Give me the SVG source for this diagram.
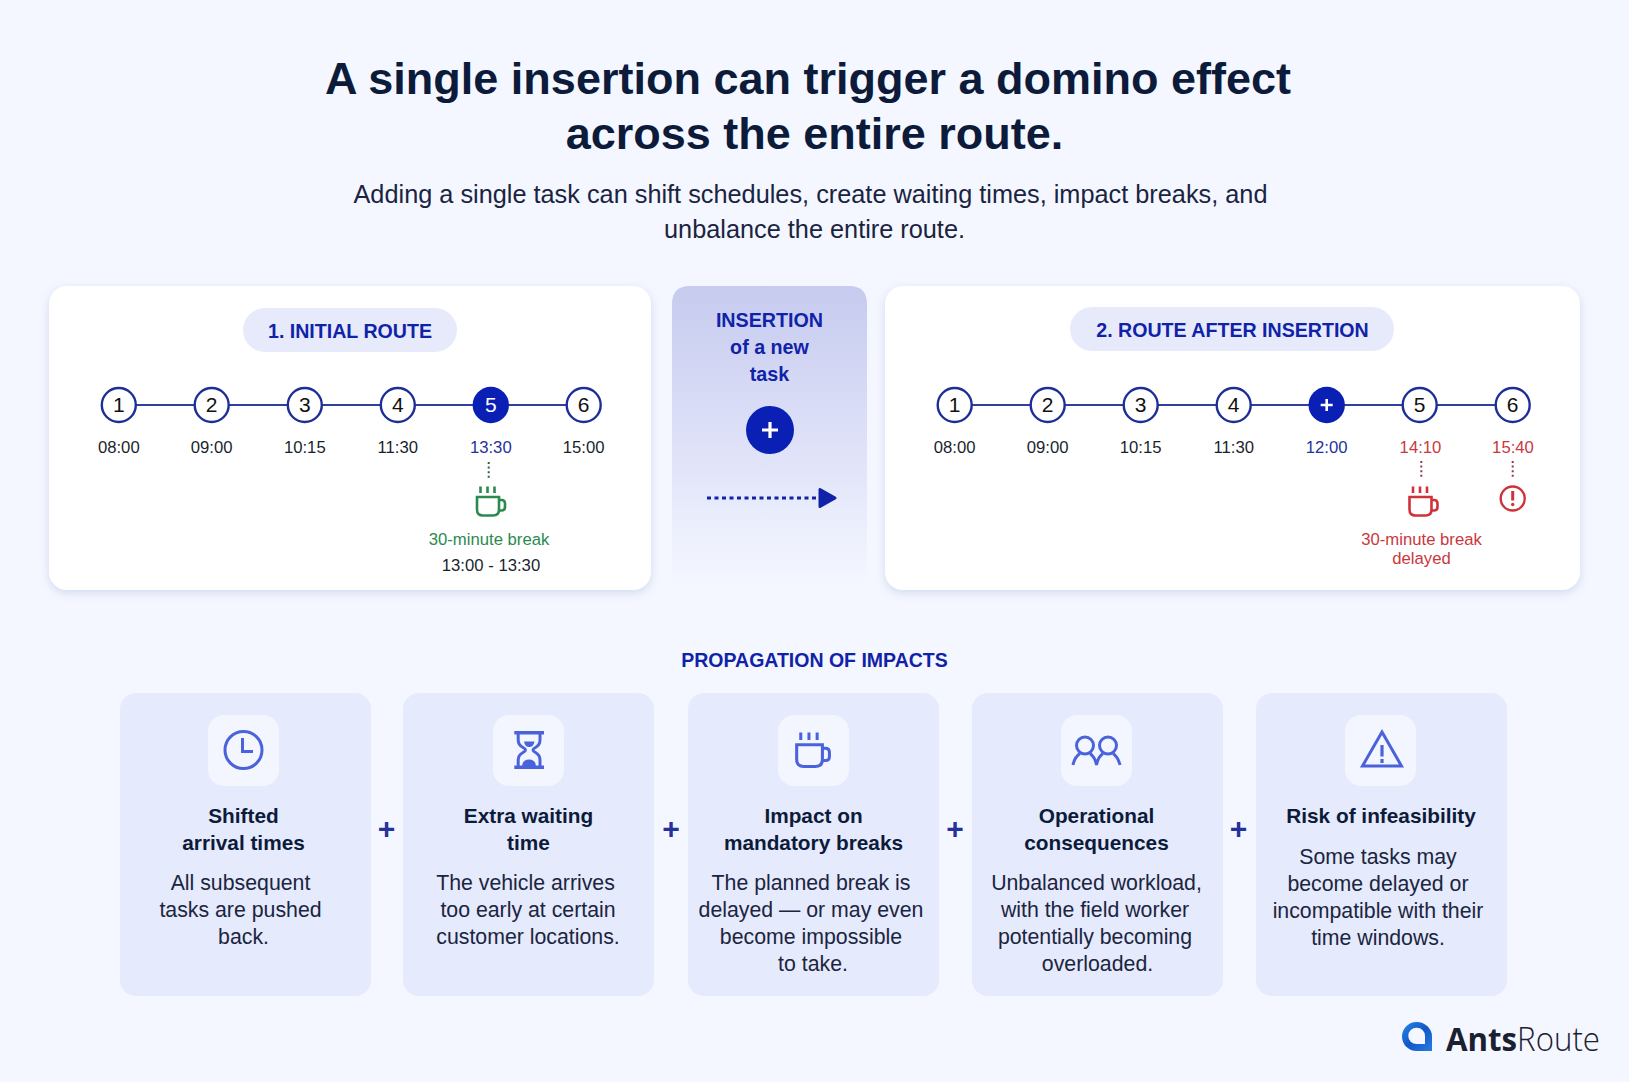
<svg xmlns="http://www.w3.org/2000/svg" width="1629" height="1082" viewBox="0 0 1629 1082">
<style>
text{font-family:"Liberation Sans",Arial,sans-serif;text-anchor:middle;fill:#0d1b3a}
.h1{font-size:45px;font-weight:700}
.sub{font-size:25.300px;fill:#1a2440}
.pill{font-size:19.600px;font-weight:700;fill:#1023a8}
.pf{fill:#e6eafb}
.num{font-size:21px;fill:#111}
.t{font-size:16.700px;fill:#1a1f2e}
.nc{fill:#fff;stroke:#1d2f96;stroke-width:2.400}
.nf{fill:#0a1fb4}
.tb{fill:#25329a}.tr{fill:#c9383e}.tg{fill:#2b8a50}
.ins{font-size:19.700px;font-weight:700;fill:#1023a8}
.hd{font-size:20.800px;font-weight:700}
.bd{font-size:21.300px;fill:#1b2540}
.card{fill:#e5eafc}
.ib{fill:#f3f6ff}
.ic{fill:none;stroke:#4a63db;stroke-width:3}
.plus{font-size:30px;font-weight:700;fill:#25329a}
.ln{stroke:#2d3f9f;stroke-width:2.200;fill:none}
.dot{stroke-width:2;stroke-dasharray:2 2.600;fill:none}
</style>
<defs>
<filter id="sh" x="-5%" y="-5%" width="110%" height="115%"><feDropShadow dx="0" dy="3" stdDeviation="5" flood-color="#8d9bd0" flood-opacity=".32"/></filter>
<linearGradient id="ig" x1="0" y1="0" x2="0" y2="1"><stop offset="0" stop-color="#c6cbef"/><stop offset=".55" stop-color="#dfe2f8"/><stop offset="1" stop-color="#f4f7ff"/></linearGradient>
<linearGradient id="lg" x1="0" y1="0" x2="1" y2="1"><stop offset="0" stop-color="#2a86e8"/><stop offset=".5" stop-color="#1158c8"/><stop offset="1" stop-color="#2a7be0"/></linearGradient>
<g id="cup"><path d="M4.500 0V6.500M11.500 0V6.500M18.500 0V6.500"/><path d="M1 10.500H23V23Q23 29 17 29H7Q1 29 1 23ZM23 13.500H25.500Q29 13.500 29 17V20.500Q29 24 25.500 24H22.500"/></g>
</defs>
<rect width="1629" height="1082" fill="#f4f7ff"/>
<g id="title">
<text class="h1" x="808" y="94">A single insertion can trigger a domino effect</text>
<text class="h1" x="814.500" y="149">across the entire route.</text>
<text class="sub" x="810.500" y="203">Adding a single task can shift schedules, create waiting times, impact breaks, and</text>
<text class="sub" x="814.500" y="238">unbalance the entire route.</text>
</g>
<g id="panel-initial">
<rect x="49" y="286" width="602" height="304" rx="18" fill="#fff" filter="url(#sh)"/>
<rect class="pf" x="243" y="308" width="214" height="44" rx="22"/>
<text class="pill" x="350" y="338">1. INITIAL ROUTE</text>
</g>
<g id="panel-insertion">
<path d="M690 286H849Q867 286 867 304V583H672V304Q672 286 690 286Z" fill="url(#ig)"/>
<text class="ins" x="769.500" y="327">INSERTION</text>
<text class="ins" x="769.500" y="354">of a new</text>
<text class="ins" x="769.500" y="381">task</text>
<circle class="nf" cx="770" cy="430" r="24"/>
<path d="M770 422V438M762 430H778" stroke="#fff" stroke-width="3.200" fill="none"/>
</g>
<g id="panel-after">
<rect x="885" y="286" width="695" height="304" rx="18" fill="#fff" filter="url(#sh)"/>
<rect class="pf" x="1070" y="307" width="324" height="44" rx="22"/>
<text class="pill" x="1232.500" y="337">2. ROUTE AFTER INSERTION</text>
</g>
<g id="connectors">
<path class="ln" d="M118.800 405H583.700"/>
<path class="ln" d="M954.700 405H1512.700"/>
<path class="dot" stroke="#3c5a48" d="M488.700 462V479"/>
<path class="dot" stroke="#8a4048" d="M1421.300 461V479"/>
<path class="dot" stroke="#8a4048" d="M1512.700 461V479"/>
<path d="M707 498H816" stroke="#0f22a8" stroke-width="3" stroke-dasharray="4 3.500" fill="none"/>
<path d="M820 489.500V506.500L835 498Z" fill="#0f22a8" stroke="#0f22a8" stroke-width="3" stroke-linejoin="round"/>
</g>
<g id="r1-1"><circle class="nc" cx="118.800" cy="405" r="17"/><text class="num" x="118.800" y="412">1</text><text class="t" x="118.800" y="453">08:00</text></g>
<g id="r1-2"><circle class="nc" cx="211.700" cy="405" r="17"/><text class="num" x="211.700" y="412">2</text><text class="t" x="211.700" y="453">09:00</text></g>
<g id="r1-3"><circle class="nc" cx="304.800" cy="405" r="17"/><text class="num" x="304.800" y="412">3</text><text class="t" x="304.800" y="453">10:15</text></g>
<g id="r1-4"><circle class="nc" cx="397.800" cy="405" r="17"/><text class="num" x="397.800" y="412">4</text><text class="t" x="397.800" y="453">11:30</text></g>
<g id="r1-5"><circle class="nf" cx="490.800" cy="405" r="18.200"/><text class="num" style="fill:#fff" x="490.800" y="412">5</text><text class="t tb" x="490.800" y="453">13:30</text></g>
<g id="r1-6"><circle class="nc" cx="583.700" cy="405" r="17"/><text class="num" x="583.700" y="412">6</text><text class="t" x="583.700" y="453">15:00</text></g>
<g id="break-initial">
<use href="#cup" x="476" y="486.500" fill="none" stroke="#2b8a50" stroke-width="2.600"/>
<text class="t tg" x="489" y="544.500">30-minute break</text>
<text class="t" x="491" y="570.500">13:00 - 13:30</text>
</g>
<g id="r2-1"><circle class="nc" cx="954.700" cy="405" r="17"/><text class="num" x="954.700" y="412">1</text><text class="t" x="954.700" y="453">08:00</text></g>
<g id="r2-2"><circle class="nc" cx="1047.700" cy="405" r="17"/><text class="num" x="1047.700" y="412">2</text><text class="t" x="1047.700" y="453">09:00</text></g>
<g id="r2-3"><circle class="nc" cx="1140.700" cy="405" r="17"/><text class="num" x="1140.700" y="412">3</text><text class="t" x="1140.700" y="453">10:15</text></g>
<g id="r2-4"><circle class="nc" cx="1233.700" cy="405" r="17"/><text class="num" x="1233.700" y="412">4</text><text class="t" x="1233.700" y="453">11:30</text></g>
<g id="r2-plus"><circle class="nf" cx="1326.700" cy="405" r="18.200"/><path d="M1326.700 399V411M1320.700 405H1332.700" stroke="#fff" stroke-width="2.600"/><text class="t tb" x="1326.700" y="453">12:00</text></g>
<g id="r2-5"><circle class="nc" cx="1419.700" cy="405" r="17"/><text class="num" x="1419.700" y="412">5</text><text class="t tr" x="1420.500" y="453">14:10</text></g>
<g id="r2-6"><circle class="nc" cx="1512.700" cy="405" r="17"/><text class="num" x="1512.700" y="412">6</text><text class="t tr" x="1513" y="453">15:40</text></g>
<g id="break-delayed">
<use href="#cup" x="1408.500" y="486.500" fill="none" stroke="#cf3238" stroke-width="2.600"/>
<text class="t tr" x="1421.500" y="544.500">30-minute break</text>
<text class="t tr" x="1421.500" y="563.500">delayed</text>
</g>
<g id="alert">
<circle cx="1512.700" cy="498.500" r="12" fill="none" stroke="#cf3238" stroke-width="2.400"/>
<path d="M1512.700 491V500.500" stroke="#cf3238" stroke-width="3"/><circle cx="1512.700" cy="504.500" r="1.700" fill="#cf3238"/>
</g>
<text id="propagation" x="814.500" y="667" style="font-size:19.500px;font-weight:700;fill:#1023a8">PROPAGATION OF IMPACTS</text>
<g id="impact-1">
<rect class="card" x="120" y="693" width="251" height="303" rx="16"/>
<rect class="ib" x="208" y="715" width="71" height="71" rx="16"/>
<circle class="ic" cx="243.500" cy="750" r="18.500"/><path class="ic" d="M242.500 738V751.500H253"/>
<text class="hd" x="243.500" y="823">Shifted</text><text class="hd" x="243.500" y="850">arrival times</text>
<text class="bd" x="240.500" y="890">All subsequent</text><text class="bd" x="240.500" y="917">tasks are pushed</text><text class="bd" x="243.500" y="944">back.</text>
</g>
<g id="impact-2">
<rect class="card" x="403" y="693" width="251" height="303" rx="16"/>
<rect class="ib" x="493" y="715" width="71" height="71" rx="16"/>
<path class="ic" style="stroke-width:3.400" d="M514.300 732.700H544M514.300 767.300H544"/>
<path class="ic" d="M518.200 733V740Q518.200 745 523 747.500Q528 750 523 752.500Q518.200 755 518.200 760V767M540 733V740Q540 745 535.500 747.500Q530.500 750 535.500 752.500Q540 755 540 760V767"/>
<path d="M524 741.500H534.500Q533.500 747 529.200 747Q525 747 524 741.500ZM522 767Q522 759.500 529 759.500Q536 759.500 536 767Z" fill="#4a63db"/>
<text class="hd" x="528.500" y="823">Extra waiting</text><text class="hd" x="528.500" y="850">time</text>
<text class="bd" x="525.500" y="890">The vehicle arrives</text><text class="bd" x="528" y="917">too early at certain</text><text class="bd" x="528" y="944">customer locations.</text>
</g>
<g id="impact-3">
<rect class="card" x="688" y="693" width="251" height="303" rx="16"/>
<rect class="ib" x="778" y="715" width="71" height="71" rx="16"/>
<g transform="translate(795.500 732.500) scale(1.170 1.170)"><use href="#cup" fill="none" stroke="#4a63db" stroke-width="2.600"/></g>
<text class="hd" x="813.500" y="823">Impact on</text><text class="hd" x="813.500" y="850">mandatory breaks</text>
<text class="bd" x="811" y="890">The planned break is</text><text class="bd" x="811" y="917">delayed — or may even</text><text class="bd" x="811" y="944">become impossible</text><text class="bd" x="813" y="971">to take.</text>
</g>
<g id="impact-4">
<rect class="card" x="972" y="693" width="251" height="303" rx="16"/>
<rect class="ib" x="1061" y="715" width="71" height="71" rx="16"/>
<path class="ic" d="M1073 765Q1074.500 757 1080 753.500M1090 753.500Q1095 757 1096.500 765Q1098 757 1103 753.500M1113 753.500Q1118 757 1120 765"/>
<ellipse class="ic" cx="1085" cy="745.500" rx="8.500" ry="8.500"/><ellipse class="ic" cx="1108" cy="745.500" rx="8.500" ry="8.500"/>
<text class="hd" x="1096.500" y="823">Operational</text><text class="hd" x="1096.500" y="850">consequences</text>
<text class="bd" x="1096.500" y="890">Unbalanced workload,</text><text class="bd" x="1095" y="917">with the field worker</text><text class="bd" x="1095" y="944">potentially becoming</text><text class="bd" x="1097.500" y="971">overloaded.</text>
</g>
<g id="impact-5">
<rect class="card" x="1256" y="693" width="251" height="303" rx="16"/>
<rect class="ib" x="1345" y="715" width="71" height="71" rx="16"/>
<path class="ic" d="M1382 732L1362.500 766H1401.500Z"/>
<path d="M1382 745V756.500M1382 759V763" stroke="#4a63db" stroke-width="3.200"/>
<text class="hd" x="1381" y="823">Risk of infeasibility</text>
<text class="bd" x="1378" y="864">Some tasks may</text><text class="bd" x="1378" y="891">become delayed or</text><text class="bd" x="1378" y="918">incompatible with their</text><text class="bd" x="1378" y="945">time windows.</text>
</g>
<g id="plus-signs">
<text class="plus" x="386.500" y="839">+</text><text class="plus" x="671" y="839">+</text><text class="plus" x="955" y="839">+</text><text class="plus" x="1238.500" y="839">+</text>
</g>
<g id="logo">
<path fill-rule="evenodd" fill="url(#lg)" d="M1416.500 1022A14.500 14.500 0 0 0 1416.500 1051H1432V1036.500A15.500 14.500 0 0 0 1416.500 1022ZM1416.500 1027.700A8.200 8.200 0 0 1 1425 1036V1044.100H1416.500A8.200 8.200 0 0 1 1416.500 1027.700Z"/>
<text x="1446" y="1051" textLength="154" lengthAdjust="spacingAndGlyphs" style="font-family:'Open Sans',sans-serif;font-size:33px;text-anchor:start;fill:#1a2030"><tspan font-weight="700">Ants</tspan><tspan font-weight="300">Route</tspan></text>
</g>
</svg>
